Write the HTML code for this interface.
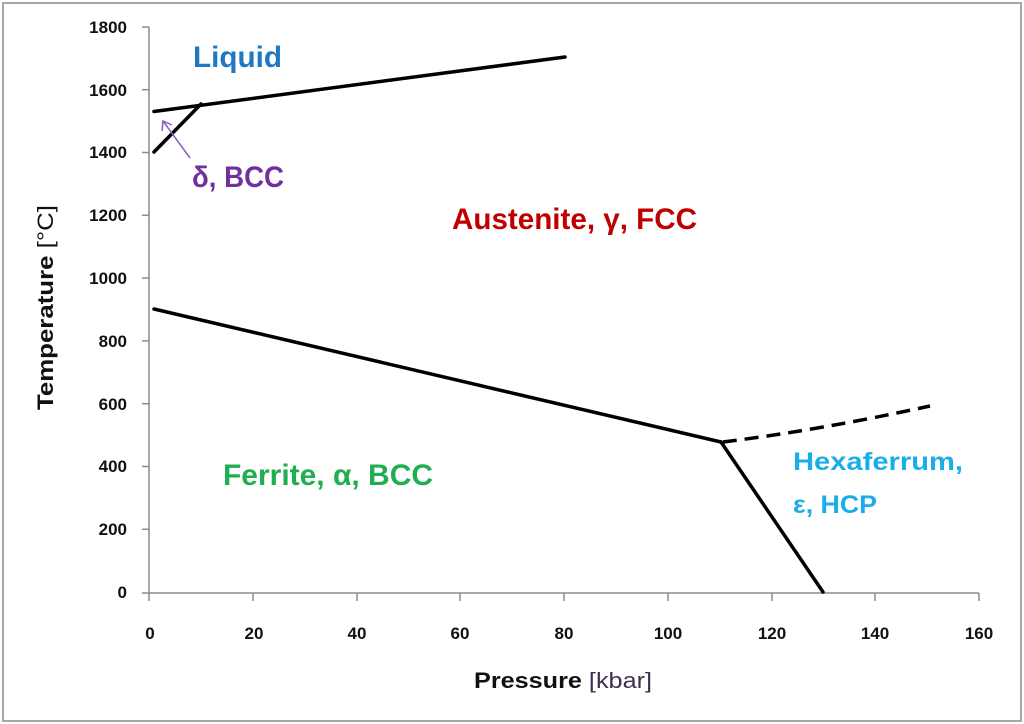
<!DOCTYPE html>
<html><head><meta charset="utf-8"><style>
html,body{margin:0;padding:0;background:#fff;}
svg{display:block;}
text{font-family:"Liberation Sans","DejaVu Sans",sans-serif;}
</style></head><body>
<svg width="1024" height="724" viewBox="0 0 1024 724" xmlns="http://www.w3.org/2000/svg">
<rect x="3" y="3" width="1018" height="718" fill="#fff" stroke="#a6a6a6" stroke-width="2"/>
<g stroke="#8c8c8c" stroke-width="1.5" fill="none">
<line x1="149" y1="27" x2="149" y2="593"/>
<line x1="149" y1="593" x2="979" y2="593"/>
<line x1="142" y1="27" x2="149" y2="27"/>
<line x1="142" y1="89.7" x2="149" y2="89.7"/>
<line x1="142" y1="152.5" x2="149" y2="152.5"/>
<line x1="142" y1="215.3" x2="149" y2="215.3"/>
<line x1="142" y1="278.1" x2="149" y2="278.1"/>
<line x1="142" y1="340.9" x2="149" y2="340.9"/>
<line x1="142" y1="403.7" x2="149" y2="403.7"/>
<line x1="142" y1="466.5" x2="149" y2="466.5"/>
<line x1="142" y1="529.3" x2="149" y2="529.3"/>
<line x1="142" y1="593" x2="149" y2="593"/>
<line x1="149" y1="593" x2="149" y2="601"/>
<line x1="253" y1="593" x2="253" y2="601"/>
<line x1="357" y1="593" x2="357" y2="601"/>
<line x1="460" y1="593" x2="460" y2="601"/>
<line x1="564" y1="593" x2="564" y2="601"/>
<line x1="668" y1="593" x2="668" y2="601"/>
<line x1="772" y1="593" x2="772" y2="601"/>
<line x1="875" y1="593" x2="875" y2="601"/>
<line x1="979" y1="593" x2="979" y2="601"/>
</g>
<g font-size="17" font-weight="bold" fill="#111" text-anchor="end">
<text x="127" y="33">1800</text><text x="127" y="96">1600</text><text x="127" y="158">1400</text>
<text x="127" y="221">1200</text><text x="127" y="284">1000</text><text x="127" y="347">800</text>
<text x="127" y="410">600</text><text x="127" y="472">400</text><text x="127" y="535">200</text>
<text x="127" y="598">0</text>
</g>
<g font-size="17" font-weight="bold" fill="#111" text-anchor="middle">
<text x="150" y="639">0</text><text x="254" y="639">20</text><text x="357" y="639">40</text>
<text x="460" y="639">60</text><text x="564" y="639">80</text><text x="668" y="639">100</text>
<text x="772" y="639">120</text><text x="875" y="639">140</text><text x="979" y="639">160</text>
</g>
<text x="474" y="688" font-size="22" fill="#111" textLength="178" lengthAdjust="spacingAndGlyphs"><tspan font-weight="bold">Pressure</tspan> <tspan fill="#3d3050">[kbar]</tspan></text>
<text transform="translate(53,410) rotate(-90)" font-size="22" fill="#111" textLength="205" lengthAdjust="spacingAndGlyphs"><tspan font-weight="bold">Temperature</tspan> <tspan>[°C]</tspan></text>
<g stroke="#000" stroke-width="3.5" fill="none" stroke-linecap="round">
<line x1="154" y1="111.5" x2="565" y2="57"/>
<line x1="154" y1="152" x2="201" y2="104"/>
<line x1="154" y1="309" x2="721" y2="442"/>
<line x1="721" y1="442" x2="823" y2="592"/>
<path d="M723 442 Q820 430 930 406" stroke-dasharray="14,8" stroke-linecap="butt"/>
</g>
<g stroke="#8a5cc0" stroke-width="1.5" fill="none">
<line x1="190" y1="158" x2="163" y2="121"/>
<polyline points="162,131 163,121 172,125"/>
</g>
<g font-weight="bold">
<text x="193" y="67" font-size="30" fill="#1f78c1" textLength="89" lengthAdjust="spacingAndGlyphs">Liquid</text>
<text x="192" y="187" font-size="30" fill="#7030a0" textLength="92" lengthAdjust="spacingAndGlyphs">δ, BCC</text>
<text x="452" y="229" font-size="30" fill="#c00000" textLength="245" lengthAdjust="spacingAndGlyphs">Austenite, γ, FCC</text>
<text x="223" y="485" font-size="30" fill="#1fae52" textLength="210" lengthAdjust="spacingAndGlyphs">Ferrite, α, BCC</text>
<text x="793" y="470" font-size="25" fill="#1aaee8" textLength="170" lengthAdjust="spacingAndGlyphs">Hexaferrum,</text>
<text x="793" y="513" font-size="25" fill="#1aaee8" textLength="84" lengthAdjust="spacingAndGlyphs">ε, HCP</text>
</g>
</svg>
</body></html>
